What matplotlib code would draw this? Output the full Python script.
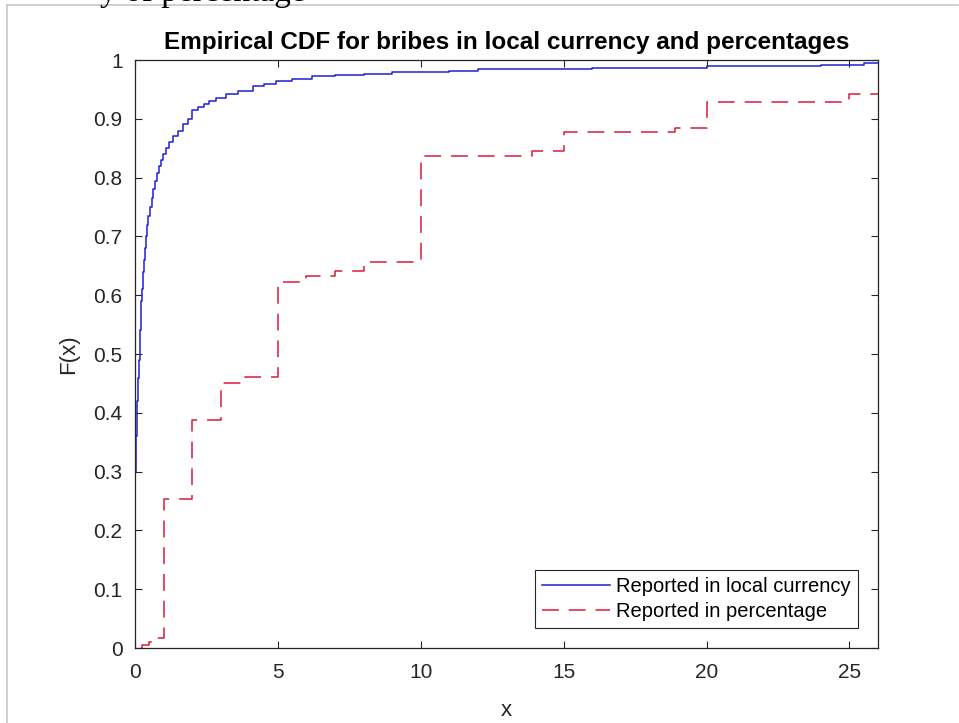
import matplotlib.pyplot as plt
from matplotlib.lines import Line2D

# ECDF step points, bribes reported in local currency
blue_x = [0, 0, 0.02, 0.04, 0.06, 0.08, 0.10, 0.12, 0.14, 0.16, 0.18, 0.20,
          0.22, 0.25, 0.28, 0.31, 0.34, 0.38, 0.42, 0.47, 0.52, 0.58, 0.64,
          0.70, 0.76, 0.83, 0.90, 0.99, 1.08, 1.2, 1.34, 1.5, 1.69, 1.85,
          1.98, 2.2, 2.4, 2.6, 2.85, 3.2, 3.6, 4.14, 4.5, 4.95, 5.5, 6.2,
          7.0, 8, 9, 10, 11, 12, 14, 16, 18, 20, 22, 24, 25.5, 26]
blue_F = [0, 0.30, 0.32, 0.36, 0.39, 0.42, 0.44, 0.46, 0.49, 0.51, 0.54, 0.57,
          0.59, 0.61, 0.64, 0.66, 0.68, 0.70, 0.72, 0.735, 0.75, 0.765, 0.78,
          0.795, 0.807, 0.82, 0.83, 0.841, 0.85, 0.86, 0.87, 0.88, 0.892, 0.90,
          0.915, 0.92, 0.926, 0.93, 0.935, 0.942, 0.948, 0.955, 0.96, 0.965,
          0.968, 0.972, 0.975, 0.977, 0.979, 0.98, 0.982, 0.984, 0.985, 0.986,
          0.987, 0.989, 0.99, 0.992, 0.995, 0.995]

# ECDF step points, bribes reported as percentage
red_x = [0.2, 0.25, 0.5, 0.7, 1, 2, 3, 3.8, 5, 6, 7, 8, 10, 13.9, 15, 18.9,
         20, 25, 26]
red_F = [0, 0.005, 0.01, 0.017, 0.254, 0.388, 0.45, 0.461, 0.622, 0.632,
         0.642, 0.657, 0.837, 0.846, 0.878, 0.885, 0.929, 0.942, 0.942]

xticks = [0, 5, 10, 15, 20, 25]
yticks = [0, 0.1, 0.2, 0.3, 0.4, 0.5, 0.6, 0.7, 0.8, 0.9, 1]
ytick_labels = ['0', '0.1', '0.2', '0.3', '0.4', '0.5', '0.6', '0.7', '0.8', '0.9', '1']

plt.rcParams['font.family'] = ['Liberation Sans', 'DejaVu Sans']
grey = '#262626'

fig = plt.figure(figsize=(9.59, 7.23), dpi=100)
ax = fig.add_axes([0.1408, 0.1037, 0.7747, 0.8133])

ax.plot(blue_x, blue_F, drawstyle='steps-post', color='#1f1fd6', lw=1.1,
        label='Reported in local currency')
ax.plot(red_x, red_F, drawstyle='steps-post', color='#dc1a3a', lw=1.1,
        dashes=(11, 6.5), label='Reported in percentage')

ax.set_xlim(0, 26)
ax.set_ylim(0, 1)
ax.set_xticks(xticks)
ax.set_xticklabels([str(t) for t in xticks])
ax.set_yticks(yticks)
ax.set_yticklabels(ytick_labels)
ax.tick_params(direction='in', top=True, right=True, length=5, width=0.8,
               colors=grey, labelsize=15, pad=9)
ax.tick_params(axis='x', pad=11)
for s in ax.spines.values():
    s.set_color(grey)
    s.set_linewidth(0.9)

ax.set_title('Empirical CDF for bribes in local currency and percentages',
             fontsize=17.5, fontweight='bold', pad=8)
ax.set_xlabel('x', fontsize=16, color=grey, labelpad=13)
ax.set_ylabel('F(x)', fontsize=16, color=grey, labelpad=10)

leg = ax.legend(loc='lower right', fontsize=14.5, frameon=True, fancybox=False,
                edgecolor=grey, framealpha=1, borderpad=0.35, handlelength=3.4,
                handletextpad=0.3, labelspacing=0.3, borderaxespad=1.0)
leg.get_frame().set_linewidth(0.8)

# page frame and cut-off line of document text above the figure
fig.add_artist(Line2D([0.0073, 0.0073], [0, 0.993], transform=fig.transFigure,
                      color='#c8c8c8', lw=1.2))
fig.add_artist(Line2D([0.0073, 0.999], [0.993, 0.993], transform=fig.transFigure,
                      color='#c8c8c8', lw=1.2))
fig.text(0.104, 0.999, 'y of percentage', fontsize=24, family='Liberation Serif',
         va='baseline', ha='left')

fig.savefig('out.png', dpi=100)
